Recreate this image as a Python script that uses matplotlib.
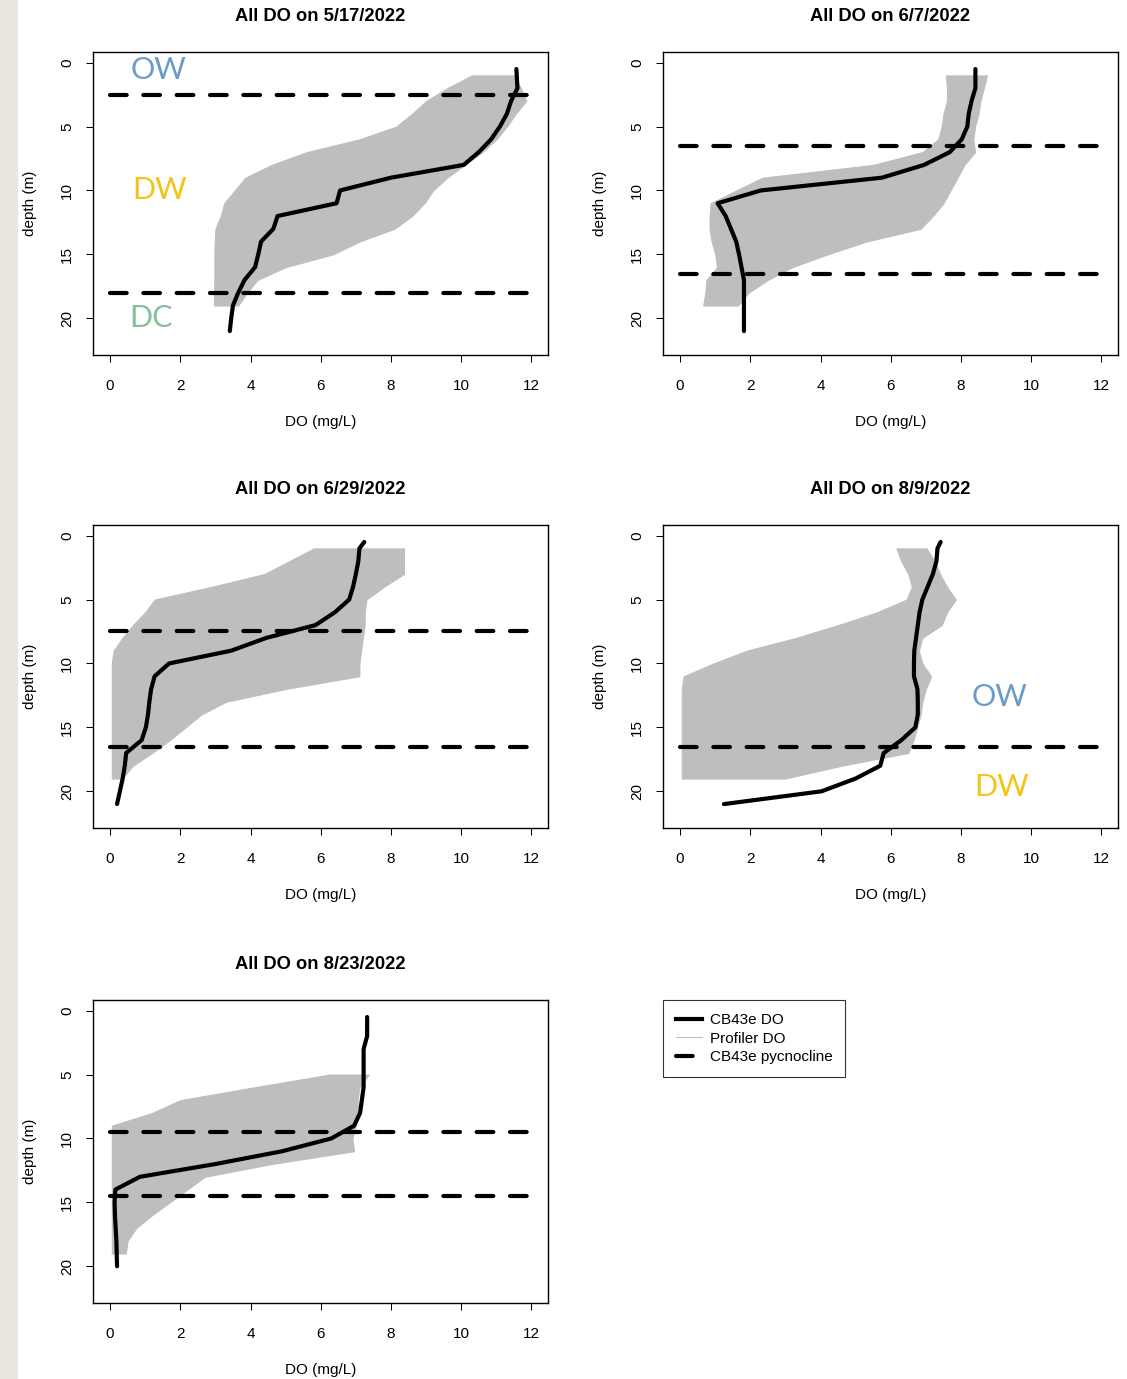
import matplotlib
matplotlib.use("Agg")
import matplotlib.pyplot as plt
from matplotlib.lines import Line2D
from matplotlib.patches import Rectangle

plt.rcParams['font.family'] = ['Liberation Sans', 'DejaVu Sans']

W, H = 1127, 1379

dates = ["5/17/2022", "6/7/2022", "6/29/2022", "8/9/2022", "8/23/2022"]
do_ticks = [0, 2, 4, 6, 8, 10, 12]
depth_ticks = [0, 5, 10, 15, 20]

# CB43e station DO profiles (depth in m, DO in mg/L)
cb_depth_0517 = [0.5, 2, 3, 4, 5, 6, 7, 8, 9, 10, 11, 12, 13, 14, 15, 16, 17, 18, 19, 20, 21]
cb_do_0517 = [11.57, 11.6, 11.42, 11.3, 11.1, 10.85, 10.5, 10.07, 8.0, 6.55, 6.45, 4.77, 4.65,
              4.3, 4.22, 4.13, 3.83, 3.65, 3.5, 3.45, 3.41]
cb_depth_0607 = [0.5, 2, 3, 4, 5, 6, 7, 8, 9, 10, 11, 12, 13, 14, 15, 16, 17, 18, 19, 20, 21]
cb_do_0607 = [8.41, 8.41, 8.3, 8.22, 8.18, 8.02, 7.68, 6.95, 5.75, 2.3, 1.07, 1.3, 1.45, 1.6,
              1.68, 1.75, 1.82, 1.82, 1.82, 1.82, 1.82]
cb_depth_0629 = [0.5, 1, 2, 3, 4, 5, 6, 7, 8, 9, 10, 11, 12, 13, 14, 15, 16, 17, 18, 19, 20, 21]
cb_do_0629 = [7.24, 7.1, 7.07, 7.0, 6.92, 6.81, 6.4, 5.85, 4.45, 3.45, 1.68, 1.27, 1.17, 1.12,
              1.08, 1.02, 0.9, 0.46, 0.42, 0.36, 0.28, 0.2]
cb_depth_0809 = [0.5, 1, 2, 3, 4, 5, 6, 7, 8, 9, 10, 11, 12, 13, 14, 15, 16, 17, 18, 19, 20, 21]
cb_do_0809 = [7.42, 7.33, 7.3, 7.2, 7.05, 6.9, 6.82, 6.77, 6.72, 6.67, 6.66, 6.66, 6.76, 6.77,
              6.77, 6.7, 6.3, 5.8, 5.7, 5.0, 4.03, 1.25]
cb_depth_0823 = [0.5, 2, 3, 4, 5, 6, 7, 8, 9, 10, 11, 12, 13, 14, 15, 16, 17, 18, 19, 20]
cb_do_0823 = [7.32, 7.32, 7.22, 7.22, 7.22, 7.22, 7.17, 7.12, 6.95, 6.3, 4.9, 3.0, 0.85, 0.15,
              0.13, 0.14, 0.16, 0.18, 0.19, 0.2]

# profiler DO: range of all casts at each depth (min / max)
prof_depth = list(range(1, 20))
prof_min_0517 = [10.3, 9.6, 9.0, 8.6, 8.15, 7.1, 5.6, 4.6, 3.85, 3.55, 3.25, 3.15, 3.0, 2.98,
                 2.97, 2.97, 2.97, 2.96, 2.96]
prof_max_0517 = [11.5, 11.7, 11.85, 11.55, 11.3, 11.0, 10.6, 10.1, 9.6, 9.2, 8.95, 8.6, 8.1,
                 7.1, 6.35, 5.0, 4.2, 3.9, 3.65]
prof_min_0607 = [7.57, 7.6, 7.6, 7.5, 7.45, 7.35, 6.9, 5.5, 2.35, 1.6, 0.87, 0.84, 0.84, 0.9,
                 1.0, 1.05, 0.75, 0.72, 0.66]
prof_max_0607 = [8.74, 8.65, 8.55, 8.5, 8.4, 8.35, 8.4, 8.1, 7.9, 7.7, 7.5, 7.2, 6.85, 5.3,
                 4.2, 3.2, 2.5, 1.95, 1.65]
prof_min_0629 = [5.8, 5.1, 4.4, 2.9, 1.27, 1.0, 0.65, 0.35, 0.1, 0.05, 0.05, 0.05, 0.05, 0.05,
                 0.05, 0.05, 0.05, 0.05, 0.05]
prof_max_0629 = [8.37, 8.37, 8.37, 7.8, 7.3, 7.25, 7.25, 7.2, 7.15, 7.1, 7.1, 5.0, 3.3, 2.6,
                 2.15, 1.7, 1.2, 0.65, 0.35]
prof_min_0809 = [6.16, 6.3, 6.5, 6.6, 6.45, 5.6, 4.5, 3.3, 1.9, 0.95, 0.1, 0.05, 0.05, 0.05,
                 0.05, 0.05, 0.05, 0.05, 0.05]
prof_max_0809 = [7.02, 7.25, 7.4, 7.6, 7.85, 7.6, 7.45, 6.9, 6.8, 6.9, 7.15, 7.0, 6.9, 6.85,
                 6.75, 6.65, 6.5, 4.6, 3.0]
prof_depth_0823 = list(range(5, 20))
prof_min_0823 = [6.25, 4.1, 2.0, 1.2, 0.05, 0.05, 0.05, 0.05, 0.05, 0.05, 0.05, 0.05, 0.05,
                 0.05, 0.05]
prof_max_0823 = [7.37, 7.1, 7.05, 7.05, 7.0, 6.9, 6.95, 4.6, 2.7, 2.2, 1.7, 1.2, 0.75, 0.5, 0.45]

# pycnocline depths
pycno_0517 = [2.5, 18.0]
pycno_0607 = [6.5, 16.5]
pycno_0629 = [7.5, 16.5]
pycno_0809 = [16.5]
pycno_0823 = [9.5, 14.5]

# layer labels drawn on some panels
layer_labels_0517 = [("OW", 1.37, 1.3, "#6a9bc9"), ("DW", 1.4, 10.7, "#f2c41a"),
                     ("DC", 1.18, 20.7, "#86bf98")]
layer_labels_0809 = [("OW", 9.1, 13.35, "#6a9bc9"), ("DW", 9.15, 20.4, "#f2c41a")]

panels = [
    (dates[0], cb_depth_0517, cb_do_0517, prof_depth, prof_min_0517, prof_max_0517, pycno_0517, layer_labels_0517),
    (dates[1], cb_depth_0607, cb_do_0607, prof_depth, prof_min_0607, prof_max_0607, pycno_0607, []),
    (dates[2], cb_depth_0629, cb_do_0629, prof_depth, prof_min_0629, prof_max_0629, pycno_0629, []),
    (dates[3], cb_depth_0809, cb_do_0809, prof_depth, prof_min_0809, prof_max_0809, pycno_0809, layer_labels_0809),
    (dates[4], cb_depth_0823, cb_do_0823, prof_depth_0823, prof_min_0823, prof_max_0823, pycno_0823, []),
]

GRAY = "#bebebe"

fig = plt.figure(figsize=(W / 100, H / 100), dpi=100)
fig.add_artist(Rectangle((0, 0), 17 / W, 1, transform=fig.transFigure,
                         color="#ebe7de", zorder=-1))

col_left = [93, 663]
row_top = [52, 525, 1000]
box_w, box_h = 455, 303

for i, (date, cbd, cbo, pd_, pmin, pmax, pyc, labs) in enumerate(panels):
    left = col_left[i % 2]
    top = row_top[i // 2]
    ax = fig.add_axes([left / W, 1 - (top + box_h) / H, box_w / W, box_h / H])

    # profiler casts
    ax.fill_betweenx(pd_, pmin, pmax, color=GRAY, lw=0.75, zorder=1)
    # station profile
    ax.plot(cbo, cbd, color="black", lw=3, solid_capstyle="round",
            solid_joinstyle="round", zorder=3)
    # pycnocline
    for p in pyc:
        ax.plot([do_ticks[0], do_ticks[-1]], [p, p], color="black", lw=3,
                dashes=(4, 4), dash_capstyle="round", zorder=4)

    for txt, x, y, c in labs:
        ax.text(x, y, txt, color=c, fontsize=22, family=["Lato", "DejaVu Sans"],
                ha="center", va="baseline", zorder=5)

    ax.set_xlim(-0.485, 12.47)
    ax.set_ylim(22.87, -0.83)
    ax.set_xticks(do_ticks)
    ax.set_yticks(depth_ticks)
    ax.tick_params(axis="both", length=5, width=0.75, labelsize=11, direction="out")
    ax.tick_params(axis="x", pad=12)
    ax.tick_params(axis="y", pad=8.5)
    for lab in ax.get_yticklabels():
        lab.set_rotation(90)
        lab.set_va("center")
    for s in ax.spines.values():
        s.set_linewidth(1.0)

    ax.set_title(f"All DO on {date}", fontweight="bold", fontsize=13.2, pad=22)
    ax.set_xlabel("DO (mg/L)", fontsize=11)
    ax.set_ylabel("depth (m)", fontsize=11)
    ax.xaxis.set_label_coords(0.5, -0.1965)
    ax.yaxis.set_label_coords(-0.122, 0.5)

handles = [
    Line2D([], [], color="black", lw=3),
    Line2D([], [], color=GRAY, lw=0.75),
    Line2D([], [], color="black", lw=3, dashes=(4, 4), dash_capstyle="round"),
]
leg = fig.legend(handles, ["CB43e DO", "Profiler DO", "CB43e pycnocline"],
                 loc="upper left", bbox_to_anchor=(663 / W, 1 - 1000 / H),
                 frameon=True, fancybox=False, edgecolor="black", fontsize=11,
                 handlelength=1.7, handletextpad=0.5, labelspacing=0.3,
                 borderpad=0.85, borderaxespad=0)
leg.get_frame().set_linewidth(0.8)

fig.savefig("out.png", dpi=100)
